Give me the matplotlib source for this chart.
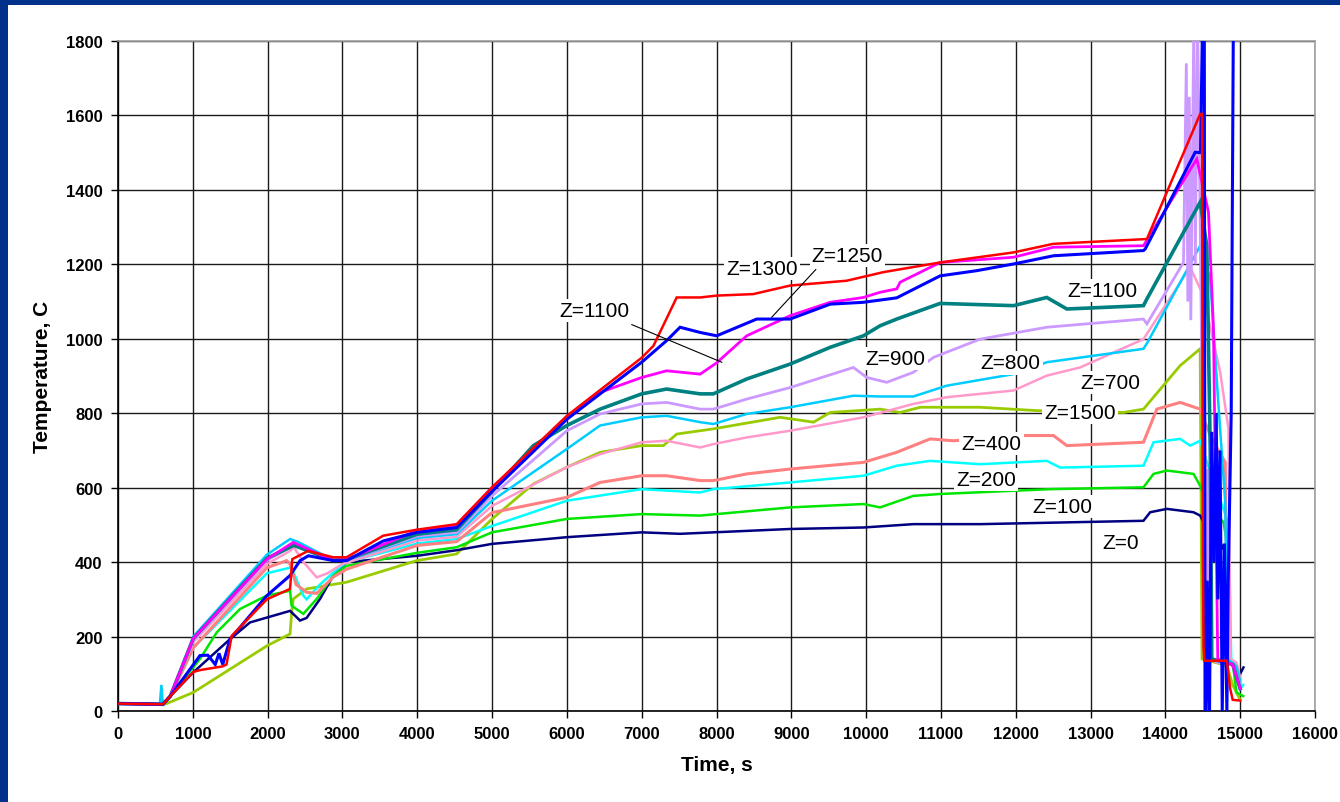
import matplotlib
matplotlib.use("Agg")
import matplotlib.pyplot as plt
from matplotlib.patches import Rectangle

plt.rcParams['font.family'] = ['Liberation Sans', 'DejaVu Sans']

# ---------------- data (time, s / temperature, C) ----------------
z1500_t = [0, 600, 650, 1007, 1990, 2300, 2320, 2343, 2521, 3055, 3993, 4527, 5000, 5552, 6000, 6444, 7000, 7290, 7468, 7781, 7958, 8850, 9296, 9519, 10187, 10455, 10722, 11524, 12282, 13440, 13707, 14198, 14465, 14490, 14822, 14900, 15000]
z1500_T = [20, 18, 20, 50, 175, 207, 260, 301, 328, 346, 404, 422, 516, 610, 655, 695, 713, 713, 744, 753, 758, 789, 776, 802, 811, 802, 816, 816, 807, 802, 811, 928, 973, 140, 122, 70, 30]

z0_t = [0, 600, 700, 1007, 1497, 1765, 2300, 2433, 2521, 2700, 2878, 3055, 4000, 4527, 5000, 5731, 6000, 7000, 7513, 8984, 9964, 10632, 11524, 13707, 13797, 14020, 14376, 14465, 14510, 14643, 14822, 14850, 14930, 14960, 15000, 15044]
z0_T = [20, 18, 40, 104, 193, 238, 269, 243, 250, 301, 364, 400, 417, 432, 449, 462, 467, 480, 476, 489, 493, 502, 502, 511, 534, 543, 534, 525, 507, 489, 417, 140, 130, 95, 100, 117]

z100_t = [0, 600, 700, 1096, 1319, 1631, 1988, 2300, 2320, 2477, 2656, 2878, 3055, 4000, 4527, 5000, 6000, 7000, 7781, 8984, 9964, 10187, 10632, 10989, 12460, 13707, 13842, 14020, 14376, 14465, 14550, 14777, 14822, 14850, 14900, 14950, 15040]
z100_T = [20, 18, 40, 140, 211, 274, 310, 323, 283, 261, 301, 364, 390, 425, 440, 480, 516, 529, 525, 547, 556, 547, 578, 583, 596, 601, 637, 646, 637, 605, 560, 507, 453, 140, 130, 50, 40]

z200_t = [0, 600, 700, 1007, 1990, 2300, 2330, 2477, 2521, 2700, 2878, 3055, 4000, 4527, 5000, 6000, 7000, 7781, 7958, 8984, 9964, 10409, 10856, 11524, 12415, 12594, 13707, 13842, 14198, 14331, 14465, 14555, 14822, 14850, 14880, 14950, 15000, 15040]
z200_T = [20, 18, 40, 170, 370, 385, 380, 310, 300, 340, 372, 400, 450, 462, 497, 565, 596, 587, 596, 614, 632, 659, 672, 663, 672, 654, 659, 722, 731, 713, 726, 668, 516, 450, 140, 120, 60, 70]

z400_t = [0, 600, 700, 1007, 1990, 2255, 2300, 2380, 2521, 2656, 2878, 3055, 4000, 4527, 5000, 6000, 6444, 7000, 7333, 7781, 7958, 8404, 8984, 9964, 10409, 10856, 11167, 12103, 12504, 12683, 13707, 13886, 14198, 14465, 14599, 14800, 14830, 14900, 15000]
z400_T = [20, 18, 40, 170, 385, 404, 395, 340, 319, 316, 360, 381, 445, 455, 533, 574, 614, 632, 632, 619, 619, 637, 650, 668, 695, 731, 726, 740, 740, 713, 722, 811, 829, 811, 740, 668, 140, 125, 70]

z700_t = [0, 600, 700, 1007, 1990, 2300, 2350, 2480, 2656, 2800, 3000, 4000, 4527, 5000, 6000, 6444, 7000, 7333, 7781, 7958, 8404, 8984, 9964, 10632, 11078, 11970, 12415, 12861, 13707, 14331, 14509, 14733, 14844, 14870, 14950, 15000]
z700_T = [20, 18, 40, 185, 395, 430, 440, 400, 359, 370, 395, 458, 468, 551, 655, 690, 722, 726, 708, 717, 735, 753, 789, 825, 843, 861, 901, 923, 999, 1192, 1116, 910, 758, 140, 130, 90]

z800_t = [0, 560, 580, 600, 700, 1007, 1990, 2300, 2400, 2878, 3055, 4000, 4527, 5000, 6000, 6444, 7000, 7333, 7781, 7958, 8404, 8984, 9830, 10187, 10632, 11078, 11970, 12415, 13707, 13760, 14465, 14600, 14700, 14800, 14830, 14950, 15000]
z800_T = [20, 20, 70, 15, 40, 200, 420, 462, 455, 405, 405, 465, 475, 565, 704, 767, 789, 793, 776, 771, 798, 816, 847, 845, 845, 874, 905, 937, 973, 990, 1250, 1160, 850, 560, 140, 120, 80]

z900_t = [0, 600, 700, 1007, 1990, 2350, 2878, 3055, 4000, 4527, 5000, 6000, 6444, 7000, 7333, 7781, 7958, 8404, 8984, 9830, 10009, 10276, 10632, 10900, 11524, 12415, 13707, 13753, 14242, 14280, 14300, 14320, 14340, 14380, 14400, 14430, 14460, 14500, 14520, 14540, 14560, 14580, 14700, 14900, 15000]
z900_T = [20, 18, 40, 190, 405, 445, 405, 405, 470, 480, 578, 753, 798, 825, 829, 811, 811, 838, 869, 923, 896, 883, 910, 950, 999, 1031, 1053, 1040, 1205, 1740, 1100, 1650, 1050, 1850, 1200, 1850, 1400, 700, 1000, 300, 650, 140, 130, 125, 70]

z1100t_t = [0, 600, 700, 1007, 1990, 2350, 2878, 3055, 4000, 4527, 5000, 5552, 6000, 6444, 7000, 7333, 7781, 7958, 8404, 8984, 9519, 9964, 10187, 10409, 10989, 11970, 12415, 12683, 13707, 13753, 14465, 14554, 14600, 14620, 14900, 15000]
z1100t_T = [20, 18, 40, 195, 410, 445, 405, 407, 475, 487, 590, 713, 767, 811, 852, 865, 852, 852, 892, 932, 977, 1008, 1035, 1053, 1095, 1089, 1111, 1080, 1089, 1107, 1367, 1250, 700, 140, 125, 60]

z1100m_t = [0, 600, 700, 1007, 1990, 2343, 2878, 3055, 4000, 4527, 5000, 6000, 6444, 7000, 7333, 7781, 8000, 8404, 8984, 9519, 9964, 10187, 10409, 10455, 10989, 11970, 12504, 13707, 14420, 14576, 14643, 14700, 14900, 15000]
z1100m_T = [20, 18, 40, 195, 408, 453, 404, 407, 485, 500, 600, 784, 856, 896, 914, 905, 935, 1008, 1062, 1098, 1111, 1125, 1134, 1152, 1205, 1219, 1246, 1250, 1483, 1340, 1026, 140, 125, 60]

z1250_t = [0, 600, 700, 1096, 1200, 1300, 1350, 1400, 1497, 1990, 2300, 2433, 2545, 2878, 3055, 3547, 4000, 4527, 5000, 6000, 7000, 7333, 7513, 7781, 8003, 8538, 8984, 9519, 9964, 10409, 10989, 11480, 11970, 12504, 13707, 13730, 14398, 14470, 14500, 14520, 14530, 14545, 14560, 14590, 14620, 14650, 14680, 14700, 14730, 14760, 14790, 14822, 14840, 14880, 14895, 14910]
z1250_T = [20, 18, 40, 149, 150, 125, 155, 125, 193, 310, 364, 404, 417, 404, 404, 457, 480, 493, 590, 784, 937, 995, 1031, 1017, 1008, 1053, 1053, 1093, 1098, 1110, 1169, 1183, 1201, 1223, 1237, 1241, 1501, 1500, 1900, 1900, 0, 0, 350, 0, 750, 400, 800, 300, 700, 0, 450, 0, 350, 800, 1350, 1900]

z1300_t = [0, 600, 700, 1007, 1100, 1400, 1450, 1520, 1990, 2300, 2330, 2540, 2875, 3055, 3545, 3993, 4527, 5000, 6000, 7000, 7157, 7468, 7781, 8003, 8490, 8984, 9741, 10230, 10989, 11970, 12500, 13753, 14465, 14490, 14500, 14510, 14520, 14822, 14866, 14900, 15000]
z1300_T = [20, 18, 40, 105, 110, 120, 125, 202, 300, 328, 408, 430, 413, 413, 471, 487, 502, 601, 793, 949, 981, 1111, 1111, 1116, 1120, 1143, 1156, 1179, 1205, 1232, 1255, 1268, 1604, 1604, 435, 172, 135, 135, 60, 30, 28]

labels = ["Z=1100", "Z=1300", "Z=1250", "Z=900", "Z=1100", "Z=800", "Z=700",
          "Z=1500", "Z=400", "Z=200", "Z=100", "Z=0"]
label_t = [6364, 8612, 9750, 10397, 13159, 11934, 13262, 12861, 11675, 11600, 12625, 13396]
label_T = [1075, 1188, 1223, 946, 1129, 935, 883, 802, 718, 623, 550, 453]

leader_1100_t = [6868, 8070]
leader_1100_T = [1038, 937]
leader_1250_t = [9327, 8739]
leader_1250_T = [1186, 1058]

x_ticks = list(range(0, 16001, 1000))
y_ticks = list(range(0, 1801, 200))

# ---------------- figure ----------------
fig = plt.figure(figsize=(13.4, 8.03), dpi=100)
fig.patch.set_facecolor("white")
# slide frame (blue bands on top and left)
fig.patches.append(Rectangle((0, 1 - 6 / 803), 1, 6 / 803, transform=fig.transFigure,
                             facecolor="#02318c", edgecolor="none", zorder=0))
fig.patches.append(Rectangle((0, 0), 8 / 1340, 1, transform=fig.transFigure,
                             facecolor="#02318c", edgecolor="none", zorder=0))

ax = fig.add_axes([118 / 1340, 1 - 712 / 803, (1315 - 118) / 1340, (712 - 42) / 803])

series = [
    (z1500_t, z1500_T, "#99cc00", 2.0),
    (z0_t, z0_T, "#000080", 1.8),
    (z100_t, z100_T, "#00e600", 1.8),
    (z200_t, z200_T, "#00ffff", 1.8),
    (z400_t, z400_T, "#ff8080", 2.2),
    (z700_t, z700_T, "#ff99cc", 1.8),
    (z800_t, z800_T, "#00ccff", 1.8),
    (z900_t, z900_T, "#cc99ff", 2.0),
    (z1100t_t, z1100t_T, "#008080", 2.6),
    (z1100m_t, z1100m_T, "#ff00ff", 2.0),
    (z1250_t, z1250_T, "#0000ff", 2.2),
    (z1300_t, z1300_T, "#ff0000", 1.8),
]
for t, T, c, lw in series:
    ax.plot(t, T, color=c, lw=lw, solid_joinstyle="miter", zorder=3)

ax.plot(leader_1100_t, leader_1100_T, color="black", lw=0.8, zorder=4)
ax.plot(leader_1250_t, leader_1250_T, color="black", lw=0.8, zorder=4)

for s, t, T in zip(labels, label_t, label_T):
    ax.text(t, T, s, fontsize=15, ha="center", va="center", zorder=5,
            bbox=dict(facecolor="white", edgecolor="none", pad=1.5))

ax.set_xlim(0, 16000)
ax.set_ylim(0, 1800)
ax.set_xticks(x_ticks)
ax.set_yticks(y_ticks)
ax.set_xticklabels([str(v) for v in x_ticks], fontsize=12, fontweight="bold")
ax.set_yticklabels([str(v) for v in y_ticks], fontsize=12, fontweight="bold")
ax.grid(True, color="#1a1a1a", lw=1.0)
ax.set_axisbelow(True)
ax.tick_params(direction="out", length=5, width=1, pad=6, colors="black")
for side in ("left", "bottom"):
    ax.spines[side].set_color("black")
    ax.spines[side].set_linewidth(1.2)
for side in ("top", "right"):
    ax.spines[side].set_color("#a0a0a0")
    ax.spines[side].set_linewidth(1.2)

ax.set_xlabel("Time, s", fontsize=15, fontweight="bold", labelpad=10)
ax.set_ylabel("Temperature, C", fontsize=15, fontweight="bold", labelpad=10)

fig.savefig("out.png", dpi=100)
